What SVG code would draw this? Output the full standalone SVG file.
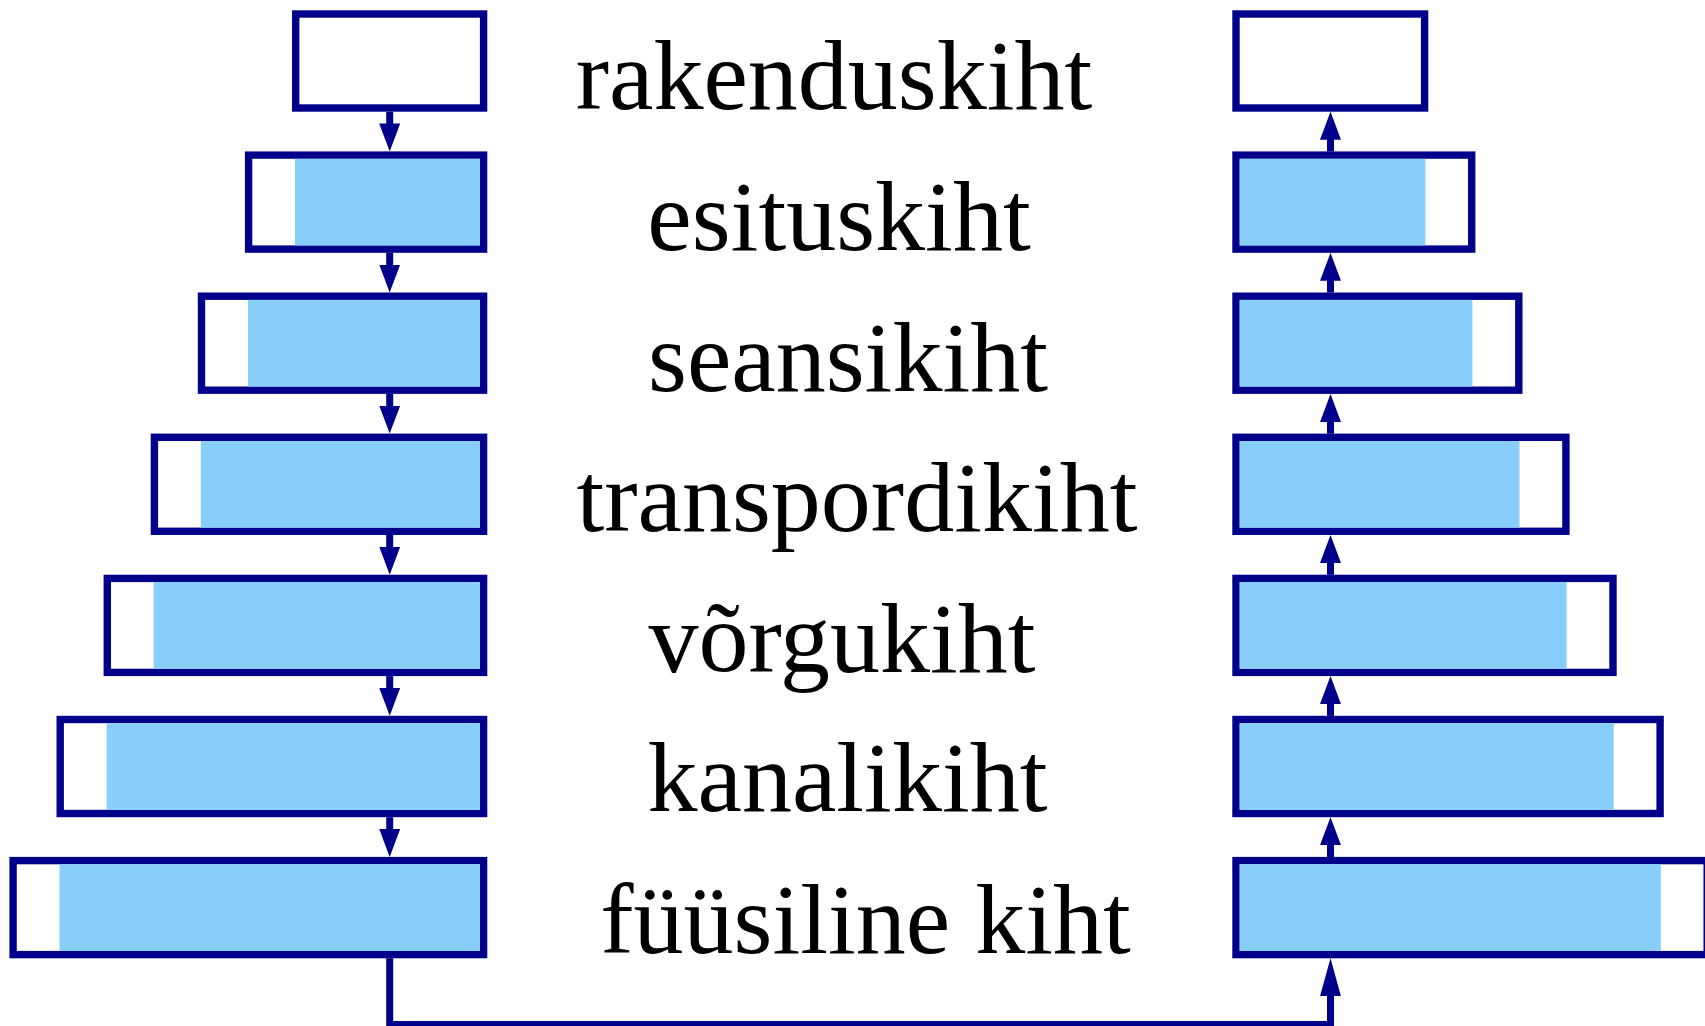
<svg xmlns="http://www.w3.org/2000/svg" width="1705" height="1026" viewBox="0 0 1705 1026">
  <style>
    .frame { fill: #ffffff; stroke: #00008b; stroke-width: 7.4; }
    .pdu { fill: #87cefa; }
    .link { fill: none; stroke: #00008b; stroke-width: 7; }
    .label { font-family: "Liberation Serif", "Times New Roman", serif; font-size: 100px; fill: #000000; text-anchor: middle; }
  </style>
  <defs>
    <marker id="head" markerUnits="userSpaceOnUse" viewBox="0 0 28 21" markerWidth="28" markerHeight="21" refX="8" refY="10.5" orient="auto">
      <path d="M0,0 L28,10.5 L0,21 z" fill="#00008b"/>
    </marker>
    <marker id="headLong" markerUnits="userSpaceOnUse" viewBox="0 0 38 21" markerWidth="38" markerHeight="21" refX="8" refY="10.5" orient="auto">
      <path d="M0,0 L38,10.5 L0,21 z" fill="#00008b"/>
    </marker>
  </defs>

  <!-- sending stack (left) -->
  <g id="send-rakenduskiht">
    <rect class="frame" x="295.7" y="14" width="187.9" height="94"/>
  </g>
  <g id="send-esituskiht">
    <rect class="frame" x="248.6" y="155.1" width="235" height="94"/>
    <rect class="pdu" x="295" y="158.8" width="184.9" height="86.6"/>
  </g>
  <g id="send-seansikiht">
    <rect class="frame" x="201.5" y="296.2" width="282.1" height="94"/>
    <rect class="pdu" x="247.9" y="299.9" width="232" height="86.6"/>
  </g>
  <g id="send-transpordikiht">
    <rect class="frame" x="154.4" y="437.3" width="329.2" height="94"/>
    <rect class="pdu" x="200.8" y="441" width="279.1" height="86.6"/>
  </g>
  <g id="send-vorgukiht">
    <rect class="frame" x="107.3" y="578.4" width="376.3" height="94"/>
    <rect class="pdu" x="153.7" y="582.1" width="326.2" height="86.6"/>
  </g>
  <g id="send-kanalikiht">
    <rect class="frame" x="60.2" y="719.5" width="423.4" height="94"/>
    <rect class="pdu" x="106.6" y="723.2" width="373.3" height="86.6"/>
  </g>
  <g id="send-fuusiline">
    <rect class="frame" x="13.1" y="860.6" width="470.5" height="94"/>
    <rect class="pdu" x="59.5" y="864.3" width="420.4" height="86.6"/>
  </g>

  <!-- receiving stack (right) -->
  <g id="recv-rakenduskiht">
    <rect class="frame" x="1236" y="14" width="188.6" height="94"/>
  </g>
  <g id="recv-esituskiht">
    <rect class="frame" x="1236" y="155.1" width="235.7" height="94"/>
    <rect class="pdu" x="1239.7" y="158.8" width="185.6" height="86.6"/>
  </g>
  <g id="recv-seansikiht">
    <rect class="frame" x="1236" y="296.2" width="282.8" height="94"/>
    <rect class="pdu" x="1239.7" y="299.9" width="232.7" height="86.6"/>
  </g>
  <g id="recv-transpordikiht">
    <rect class="frame" x="1236" y="437.3" width="329.9" height="94"/>
    <rect class="pdu" x="1239.7" y="441" width="279.8" height="86.6"/>
  </g>
  <g id="recv-vorgukiht">
    <rect class="frame" x="1236" y="578.4" width="377" height="94"/>
    <rect class="pdu" x="1239.7" y="582.1" width="326.9" height="86.6"/>
  </g>
  <g id="recv-kanalikiht">
    <rect class="frame" x="1236" y="719.5" width="424.1" height="94"/>
    <rect class="pdu" x="1239.7" y="723.2" width="374" height="86.6"/>
  </g>
  <g id="recv-fuusiline">
    <rect class="frame" x="1236" y="860.6" width="471.2" height="94"/>
    <rect class="pdu" x="1239.7" y="864.3" width="421.1" height="86.6"/>
  </g>

  <!-- layer names -->
  <g id="labels">
    <text class="label" x="834" y="108.5">rakenduskiht</text>
    <text class="label" x="839" y="250">esituskiht</text>
    <text class="label" x="848" y="390.7">seansikiht</text>
    <text class="label" x="857" y="530.7">transpordikiht</text>
    <text class="label" x="842" y="671.7">võrgukiht</text>
    <text class="label" x="847.5" y="810.7">kanalikiht</text>
    <text class="label" x="865.5" y="953.3">füüsiline kiht</text>
  </g>

  <!-- data flow: down the sender, across the medium, up the receiver -->
  <g id="connectors">
    <line class="link" x1="389.7" y1="111.7" x2="389.7" y2="131.4" marker-end="url(#head)"/>
    <line class="link" x1="389.7" y1="252.8" x2="389.7" y2="272.5" marker-end="url(#head)"/>
    <line class="link" x1="389.7" y1="393.9" x2="389.7" y2="413.6" marker-end="url(#head)"/>
    <line class="link" x1="389.7" y1="535" x2="389.7" y2="554.7" marker-end="url(#head)"/>
    <line class="link" x1="389.7" y1="676.1" x2="389.7" y2="695.8" marker-end="url(#head)"/>
    <line class="link" x1="389.7" y1="817.2" x2="389.7" y2="836.9" marker-end="url(#head)"/>

    <path class="link" d="M389.7,958.3 V1024.5 H1330.5 V988.3" marker-end="url(#headLong)"/>

    <line class="link" x1="1330.5" y1="857" x2="1330.5" y2="837.2" marker-end="url(#head)"/>
    <line class="link" x1="1330.5" y1="715.9" x2="1330.5" y2="696.1" marker-end="url(#head)"/>
    <line class="link" x1="1330.5" y1="574.8" x2="1330.5" y2="555" marker-end="url(#head)"/>
    <line class="link" x1="1330.5" y1="433.7" x2="1330.5" y2="413.9" marker-end="url(#head)"/>
    <line class="link" x1="1330.5" y1="292.6" x2="1330.5" y2="272.8" marker-end="url(#head)"/>
    <line class="link" x1="1330.5" y1="151.5" x2="1330.5" y2="131.7" marker-end="url(#head)"/>
  </g>
</svg>
